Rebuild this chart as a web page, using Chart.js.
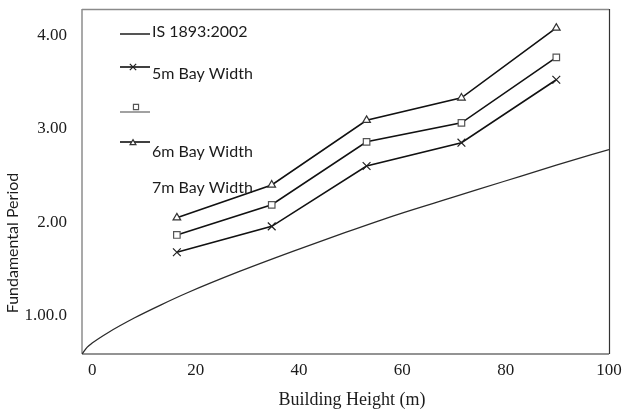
<!DOCTYPE html>
<html>
<head>
<meta charset="utf-8">
<script src="https://cdn.jsdelivr.net/npm/chart.js@4.4.1/dist/chart.umd.min.js"></script>
<style>
  html, body { margin: 0; padding: 0; background: #ffffff; }
  #wrap { width: 622px; height: 412px; }
</style>
</head>
<body>
<div id="wrap"><canvas id="chart" width="622" height="412"></canvas></div>
<script>
// Building heights (m) of the analysed frames
const heights = [18, 36, 54, 72, 90];
// Fundamental period (s) for each bay width
const bay5 = [1.18, 1.48, 2.18, 2.45, 3.18];
const bay6 = [1.38, 1.73, 2.46, 2.68, 3.44];
const bay7 = [1.58, 1.96, 2.71, 2.97, 3.78];
// IS 1893:2002 code period curve
const codeHeights = [0, 1, 2, 5, 10, 15, 20, 30, 40, 50, 60, 70, 80, 90, 100];
const codePeriod = [0, 0.08, 0.13, 0.25, 0.42, 0.57, 0.71, 0.96, 1.19, 1.41, 1.62, 1.81, 2.00, 2.19, 2.37];
// Axis tick labels
const xTickValues = [0, 20, 40, 60, 80, 100];
const xTickLabels = ['0', '20', '40', '60', '80', '100'];
const yTickValues = [1, 2, 3, 4];
const yTickLabels = ['1.00.0', '2.00', '3.00', '4.00'];
// Legend texts
const legendTexts = ['IS 1893:2002', '5m Bay Width', '6m Bay Width', '7m Bay Width'];

const pts = (xs, ys) => xs.map((x, i) => ({ x: x, y: ys[i] }));

const serif = "'Liberation Serif', 'Times New Roman', serif";
const sans = "Lato, 'Open Sans', sans-serif";
const ink = '#1c1c1c';

const framePlugin = {
  id: 'frameAndLegend',
  beforeDatasetsDraw(chart) {
    const ctx = chart.ctx, a = chart.chartArea;
    ctx.save();
    // left and bottom axis lines
    ctx.strokeStyle = '#a9a9a9'; ctx.lineWidth = 2;
    ctx.beginPath(); ctx.moveTo(a.left, a.top); ctx.lineTo(a.left, a.bottom); ctx.stroke();
    ctx.strokeStyle = '#939393';
    ctx.beginPath(); ctx.moveTo(a.left, a.bottom); ctx.lineTo(a.right, a.bottom); ctx.stroke();
    // top and right frame
    ctx.strokeStyle = '#8a8a8a'; ctx.lineWidth = 1.5;
    ctx.beginPath(); ctx.moveTo(a.left, a.top + 0.5); ctx.lineTo(a.right, a.top + 0.5); ctx.stroke();
    ctx.strokeStyle = '#333333'; ctx.lineWidth = 1.2;
    ctx.beginPath(); ctx.moveTo(a.right + 0.5, a.top); ctx.lineTo(a.right + 0.5, a.bottom); ctx.stroke();
    ctx.restore();
  },
  afterDraw(chart) {
    const ctx = chart.ctx;
    const ds = chart.data.datasets;
    ctx.save();
    // vertical axis title
    ctx.save();
    ctx.translate(13, 243);
    ctx.rotate(-Math.PI / 2);
    ctx.font = '16px ' + sans;
    ctx.fillStyle = ink;
    ctx.textAlign = 'center';
    ctx.textBaseline = 'middle';
    ctx.fillText('Fundamental Period', 0, 0);
    ctx.restore();

    // horizontal axis title
    ctx.font = '18px ' + serif;
    ctx.fillStyle = ink;
    ctx.textAlign = 'center';
    ctx.textBaseline = 'middle';
    ctx.fillText('Building Height (m)', 352, 400);

    // legend: sample lines with markers
    const rows = [
      { ds: 0, y: 34, mx: 0, my: 0, color: ds[0].borderColor },
      { ds: 1, y: 67, mx: 133, my: 67, color: ds[1].borderColor },
      { ds: 2, y: 112, mx: 136, my: 107, color: '#8a8a8a' },
      { ds: 3, y: 142, mx: 133, my: 143, color: ds[3].borderColor }
    ];
    rows.forEach(r => {
      ctx.strokeStyle = r.color;
      ctx.lineWidth = 1.6;
      ctx.beginPath(); ctx.moveTo(120, r.y); ctx.lineTo(150, r.y); ctx.stroke();
      const d = ds[r.ds];
      if (d.pointStyle && r.mx) {
        ctx.strokeStyle = d.pointBorderColor;
        ctx.fillStyle = '#ffffff';
        ctx.lineWidth = 1.2;
        Chart.helpers.drawPoint(ctx, {
          pointStyle: d.pointStyle, radius: d.pointRadius - 1, rotation: 0, borderWidth: 1.2
        }, r.mx, r.my);
      }
    });
    // legend texts
    ctx.font = '16px ' + sans;
    ctx.fillStyle = ink;
    ctx.textAlign = 'left';
    ctx.textBaseline = 'middle';
    const textY = [32, 74, 152, 188];
    legendTexts.forEach((t, i) => ctx.fillText(t, 152, textY[i]));
    ctx.restore();
  }
};

new Chart(document.getElementById('chart'), {
  type: 'line',
  data: {
    datasets: [
      {
        label: legendTexts[0],
        data: pts(codeHeights, codePeriod),
        borderColor: '#2a2a2a', borderWidth: 1.3,
        pointRadius: 0, pointStyle: false,
        cubicInterpolationMode: 'monotone',
        xAxisID: 'x', yAxisID: 'y'
      },
      {
        label: legendTexts[1],
        data: pts(heights, bay5),
        borderColor: '#111111', borderWidth: 1.6,
        pointStyle: 'crossRot', pointRadius: 5.5,
        pointBorderColor: '#222222', pointBorderWidth: 1.2,
        pointBackgroundColor: '#ffffff',
        xAxisID: 'x', yAxisID: 'y'
      },
      {
        label: legendTexts[2],
        data: pts(heights, bay6),
        borderColor: '#111111', borderWidth: 1.6,
        pointStyle: 'rect', pointRadius: 4.6,
        pointBorderColor: '#555555', pointBorderWidth: 1.2,
        pointBackgroundColor: '#ffffff',
        xAxisID: 'x', yAxisID: 'y'
      },
      {
        label: legendTexts[3],
        data: pts(heights, bay7),
        borderColor: '#111111', borderWidth: 1.6,
        pointStyle: 'triangle', pointRadius: 4.4,
        pointBorderColor: '#333333', pointBorderWidth: 1.2,
        pointBackgroundColor: '#ffffff',
        xAxisID: 'x', yAxisID: 'y'
      }
    ]
  },
  options: {
    responsive: false,
    animation: false,
    devicePixelRatio: 1,
    layout: { padding: { left: 0, right: 13, top: 9, bottom: 0 } },
    plugins: { legend: { display: false }, tooltip: { enabled: false } },
    scales: {
      x: { type: 'linear', min: 0, max: 100, display: false },
      y: { type: 'linear', min: 0, max: 4, display: false },
      xLab: {
        type: 'linear', position: 'bottom', min: -2, max: 100,
        afterBuildTicks: s => { s.ticks = xTickValues.map(v => ({ value: v })); },
        afterFit: s => { s.height = 58; s.paddingLeft = 0; s.paddingRight = 0; },
        grid: { display: false, drawTicks: false },
        border: { display: false },
        ticks: {
          padding: 6, maxRotation: 0, autoSkip: false, color: ink,
          font: { family: serif, size: 17 },
          callback: v => xTickLabels[xTickValues.indexOf(v)]
        }
      },
      yLab: {
        type: 'linear', position: 'left', min: 0.594, max: 4.283,
        afterBuildTicks: s => { s.ticks = yTickValues.map(v => ({ value: v })); },
        afterFit: s => { s.width = 82; s.paddingTop = 0; s.paddingBottom = 0; },
        grid: { display: false, drawTicks: false },
        border: { display: false },
        ticks: {
          padding: 15, color: ink,
          font: { family: serif, size: 17 },
          callback: v => yTickLabels[yTickValues.indexOf(v)]
        }
      }
    }
  },
  plugins: [framePlugin]
});
</script>
</body>
</html>
